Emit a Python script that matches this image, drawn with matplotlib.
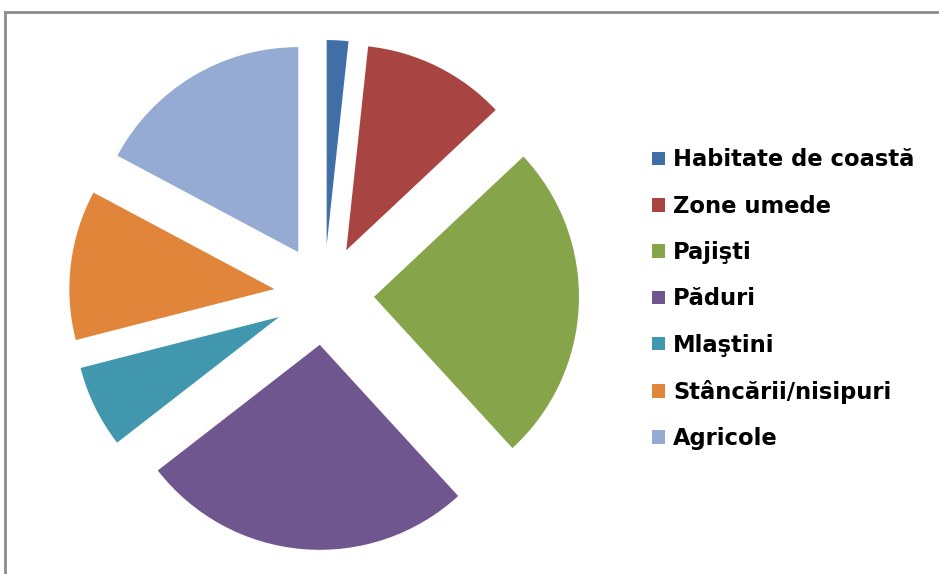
import matplotlib
matplotlib.use("Agg")
import matplotlib.pyplot as plt

# share of each habitat class (%)
categorii = ["Habitate de coastă", "Zone umede", "Pajişti", "Păduri",
             "Mlaştini", "Stâncării/nisipuri", "Agricole"]
procente = [1.7, 11.3, 25.2, 26.3, 6.5, 11.8, 17.2]
culori = ["#406EA6", "#A84542", "#86A44A", "#70568E",
          "#4198AE", "#E0853A", "#95ABD4"]

fig = plt.figure(figsize=(9.39, 5.74), dpi=100)
ax = fig.add_axes([0, 0, 1, 1])

# explode is in data units here (radius is in pixels)
wedges, _ = ax.pie(procente, colors=culori, startangle=90, counterclock=False,
                   center=(324, 279), radius=205, explode=[50] * len(procente),
                   wedgeprops=dict(linewidth=0))
ax.set_xlim(0, 939)
ax.set_ylim(0, 574)
ax.axis("off")

# chart frame (cut off at right and bottom)
ax.plot([5, 5], [0, 562], color="#8c8c8c", lw=2, clip_on=False)
ax.plot([5, 939], [562, 562], color="#8c8c8c", lw=2, clip_on=False)

leg = ax.legend(wedges, categorii, loc="upper left",
                bbox_to_anchor=(632 / 939, 1 - 128 / 574),
                frameon=False, handlelength=0.55, handleheight=0.55,
                handletextpad=0.36, labelspacing=1.03,
                prop=dict(family="DejaVu Sans", weight="bold", size=16.3))

fig.savefig("out.png", dpi=100)
